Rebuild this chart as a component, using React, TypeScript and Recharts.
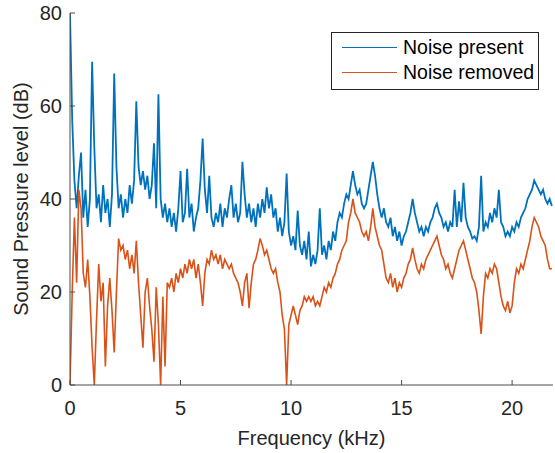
import { Legend, Line, LineChart, XAxis, YAxis } from 'recharts';

// spectrum levels in dB, one value per 0.1 kHz bin starting at 0 kHz
const noisePresentDb = [
  80, 57, 44, 38, 45, 50, 36, 42, 34, 40,
  69.5, 51, 38, 41, 35, 43, 37, 40, 34, 41,
  67, 47, 38, 41, 36, 40, 37, 43, 39, 44,
  61, 47, 43, 46, 42, 45, 40, 43, 52, 38,
  62.5, 40, 36, 39, 35, 38, 34, 37, 33, 38,
  46, 35, 37, 46.5, 36, 39, 33, 36, 38, 44,
  53, 42, 37, 45, 36, 34, 37, 35, 39, 34,
  38, 36, 40, 43, 36, 39, 35, 37, 48, 41,
  36, 39, 35, 38, 34, 39, 36, 40, 37, 42.5,
  38, 41, 36, 38, 33, 36, 32, 35, 45.5, 33,
  30, 32, 29, 37.5, 30, 28, 31, 27, 33, 25.5,
  28, 26, 29, 38, 28, 30, 27, 31, 29, 33,
  31, 35, 37, 36, 39, 41, 40, 43, 46, 43,
  41, 42, 39, 38, 39, 42, 45, 48, 45, 41,
  38, 36, 38, 35, 34, 36, 32, 34, 31, 33,
  30, 32, 33, 35, 37, 40, 37, 35, 33, 34,
  32, 34, 33, 35, 36, 38, 39, 37, 36, 34,
  35, 33, 35, 34, 42, 34, 39.5, 35, 43.5, 36,
  34, 33, 31.5, 32, 31, 34, 45, 33, 35, 34,
  37, 35, 38, 36, 42, 35, 34, 32, 33, 32,
  34, 33, 35, 34, 36, 37, 38, 40, 41, 42,
  44, 43, 42, 41, 42, 40, 39, 40, 38.5,
];

const noiseRemovedDb = [
  0, 20, 36, 22, 42, 38, 24, 21, 27, 19,
  8, 0, 14, 26, 18, 22, 4, 17, 23, 16,
  7, 20, 31.5, 29, 30, 27, 29, 25, 28, 24,
  31, 22, 15, 8, 20, 23, 17, 12, 5, 21,
  13, 0, 19, 4, 22, 21, 23, 20, 24, 22,
  25, 23, 26, 24, 27, 25, 27, 23, 26, 22,
  17, 24, 27, 26, 29, 27, 28, 26, 28, 25,
  27, 26, 25, 26, 24, 23, 22, 20, 17, 22,
  24, 16.5, 22, 26, 27, 29, 31.5, 30, 28, 29,
  27, 25, 24, 25, 22, 20, 15, 12, 0, 13,
  15, 17, 15, 13, 16, 17, 19, 18, 19, 18,
  19, 17, 18, 17, 19, 21, 20, 22, 21, 23,
  24, 26, 27, 29, 30, 31, 35, 37, 40, 37,
  36, 35, 33, 32, 33, 31, 34, 38, 34, 32,
  30, 29, 26, 23, 22, 24, 21, 23, 20, 22,
  21, 23, 24, 26, 27, 29.5, 27, 25, 24, 26,
  25, 27, 28, 29, 30, 31, 32, 30, 28, 27,
  25, 26, 24, 23, 25, 27, 29, 30, 31, 29,
  27, 25, 23, 22, 20, 16, 11, 19, 24, 23,
  25, 24, 26, 25, 22, 19, 17, 16, 18, 15.5,
  17, 22, 25, 24, 26, 25, 27, 29, 31, 34,
  36, 35, 34, 32, 31, 30, 27, 25, 25,
];

const freqStepKHz = 0.1;
const xTicks = [0, 5, 10, 15, 20];
const yTicks = [0, 20, 40, 60, 80];

const BLUE = '#0072BD';
const ORANGE = '#D95319';
const AXIS = '#4a4a4a';
const TEXT = '#262626';
const FONT = '"Liberation Sans", Arial, Helvetica, sans-serif';

const rows = noisePresentDb.map((v, i) => ({
  f: Math.round(i * freqStepKHz * 10) / 10,
  present: v,
  removed: noiseRemovedDb[i],
}));

function LegendBox() {
  const item = (color: string, label: string) => (
    <div style={{ display: 'flex', alignItems: 'center', height: 25 }}>
      <div style={{ width: 55, height: 0, borderTop: `1.5px solid ${color}`, marginLeft: 10, marginRight: 6 }} />
      <span style={{ fontSize: 19.5, color: '#000', fontFamily: FONT }}>{label}</span>
    </div>
  );
  return (
    <div
      style={{
        border: `1px solid ${TEXT}`,
        background: '#fff',
        width: 206,
        height: 54,
        paddingTop: 2,
        boxSizing: 'content-box',
      }}
    >
      {item(BLUE, 'Noise present')}
      {item(ORANGE, 'Noise removed')}
    </div>
  );
}

export default function App() {
  const tickStyle = { fill: TEXT, fontSize: 20, fontFamily: FONT };
  return (
    <div style={{ position: 'absolute', left: 0, top: 0, width: 555, height: 453, background: '#fff' }}>
      <LineChart width={555} height={453} data={rows} margin={{ top: 13, right: 2, left: 0, bottom: 0 }}>
        <XAxis
          xAxisId="b"
          type="number"
          dataKey="f"
          domain={[0, 21.85]}
          ticks={xTicks}
          allowDataOverflow
          height={68}
          stroke={AXIS}
          tickSize={-5}
          tickMargin={21}
          tick={tickStyle}
          label={{ value: 'Frequency (kHz)', position: 'insideBottom', offset: 8, fill: TEXT, fontSize: 20, fontFamily: FONT }}
        />
        <XAxis
          xAxisId="t"
          orientation="top"
          type="number"
          dataKey="f"
          domain={[0, 21.85]}
          ticks={xTicks}
          allowDataOverflow
          height={0}
          stroke={AXIS}
          tickSize={-5}
          tickFormatter={() => ''}
        />
        <YAxis
          yAxisId="l"
          type="number"
          domain={[0, 80]}
          ticks={yTicks}
          width={70}
          stroke={AXIS}
          tickSize={-5}
          tickMargin={13}
          tick={tickStyle}
          label={{
            value: 'Sound Pressure level (dB)',
            angle: -90,
            position: 'insideLeft',
            offset: 21,
            fill: TEXT,
            fontSize: 20,
            fontFamily: FONT,
            style: { textAnchor: 'middle' },
          }}
        />
        <YAxis
          yAxisId="r"
          orientation="right"
          type="number"
          domain={[0, 80]}
          ticks={yTicks}
          width={0}
          stroke={AXIS}
          tickSize={-5}
          tickFormatter={() => ''}
        />
        <Legend
          layout="vertical"
          align="center"
          verticalAlign="middle"
          content={() => <LegendBox />}
          wrapperStyle={{ left: 331, top: 32, width: 210, height: 58 }}
        />
        <Line
          xAxisId="b"
          yAxisId="l"
          type="linear"
          dataKey="present"
          stroke={BLUE}
          strokeWidth={1.8}
          dot={false}
          isAnimationActive={false}
        />
        <Line
          xAxisId="b"
          yAxisId="l"
          type="linear"
          dataKey="removed"
          stroke={ORANGE}
          strokeWidth={1.6}
          dot={false}
          isAnimationActive={false}
        />
      </LineChart>
    </div>
  );
}
